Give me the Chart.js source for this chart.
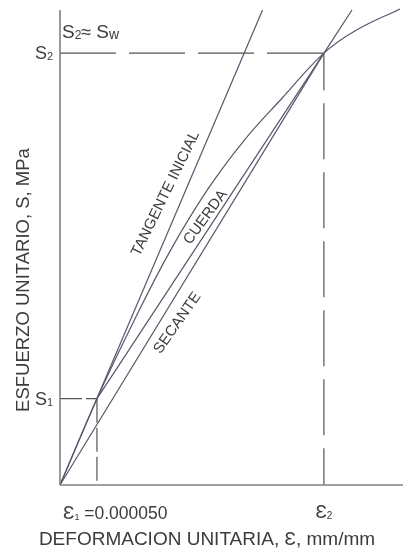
<!DOCTYPE html>
<html>
<head>
<meta charset="utf-8">
<script src="https://cdn.jsdelivr.net/npm/chart.js@4.4.0/dist/chart.umd.min.js"></script>
<style>
  html, body { margin: 0; padding: 0; background: #fff; }
  #wrap { width: 403px; height: 554px; position: relative; }
</style>
</head>
<body>
<div id="wrap"><canvas id="chart"></canvas></div>
<script>
// Strain in micro-strain (x 1e-6 mm/mm), stress in MPa (schematic)
const X_MAX = 464;
const Y_MAX = 22;

const eps1 = 50;     // 0.000050
const eps2 = 357;
const s1 = 4.0;
const s2 = 20;

// stress-strain curve
const curveStrain = [0, 50, 100, 150, 200, 250, 300, 357, 400, 460];
const curveStress = [0, 4.0, 7.6, 10.9, 13.7, 16.0, 17.9, 20, 21.05, 22.05];

// straight lines
const tangentStrain = [0, 274];
const tangentStress = [0, 22];
const chordStrain = [eps1, eps2, 395];
const chordStress = [s1, s2, 22];
const secantStrain = [0, eps2];
const secantStress = [0, s2];

// rotated labels along the lines
const lineLabels = [
    { text: 'TANGENTE INICIAL', x: 143, y: 13.5, angle: -64 },
    { text: 'CUERDA', x: 197, y: 12.4, angle: -54 },
    { text: 'SECANTE', x: 159, y: 7.5, angle: -55 }
];

const LINE_COLOR = '#55586a';
const AXIS_COLOR = '#808080';
const TEXT_COLOR = '#3c3c3c';
const FONT = '"Liberation Sans", Arial, sans-serif';

function pts(xs, ys) {
    return xs.map((x, i) => ({ x: x, y: ys[i] }));
}

function line(data, opts) {
    return Object.assign({
        data: data,
        showLine: true,
        borderColor: LINE_COLOR,
        borderWidth: 1.2,
        pointRadius: 0,
        fill: false,
        clip: false
    }, opts || {});
}

// draw text made of pieces [text, size, dy]
function drawParts(ctx, parts, x, y, align) {
    let total = 0;
    parts.forEach(p => {
        ctx.font = p[1] + 'px ' + FONT;
        total += ctx.measureText(p[0]).width;
    });
    let cx = x;
    if (align === 'right') cx = x - total;
    if (align === 'center') cx = x - total / 2;
    ctx.textAlign = 'left';
    parts.forEach(p => {
        ctx.font = p[1] + 'px ' + FONT;
        ctx.fillText(p[0], cx, y + (p[2] || 0));
        cx += ctx.measureText(p[0]).width;
    });
}

const textPlugin = {
    id: 'figureText',
    afterDatasetsDraw(chart) {
        const { ctx, scales: { x, y } } = chart;
        ctx.save();
        ctx.fillStyle = TEXT_COLOR;
        ctx.textBaseline = 'alphabetic';

        const x0 = x.getPixelForValue(0);
        const yS1 = y.getPixelForValue(s1);
        const yS2 = y.getPixelForValue(s2);
        const bottom = y.getPixelForValue(0);

        // y tick labels
        drawParts(ctx, [['S', 18], ['2', 11, 1]], x0 - 7, yS2 + 6, 'right');
        drawParts(ctx, [['S', 18], ['1', 11, 1]], x0 - 7, yS1 + 6, 'right');
        drawParts(ctx, [['S', 19], ['2', 12, 1], ['\u2248 ', 18], ['S', 19], ['w', 14, 1]], x0 + 2, yS2 - 15);

        // x tick labels
        drawParts(ctx, [['\u0190', 19], ['1', 9, 1], [' =0.000050', 17.5]], x.getPixelForValue(eps1) - 34, bottom + 34);
        drawParts(ctx, [['\u0190', 19], ['2', 10, 1]], x.getPixelForValue(eps2), bottom + 33, 'center');

        // axis titles
        ctx.font = '19px ' + FONT;
        ctx.textAlign = 'center';
        ctx.textBaseline = 'middle';
        ctx.fillText('DEFORMACION UNITARIA, \u0190, mm/mm', 207, bottom + 55);

        ctx.save();
        ctx.font = '18.5px ' + FONT;
        ctx.translate(24, 280);
        ctx.rotate(-Math.PI / 2);
        ctx.fillText('ESFUERZO UNITARIO, S, MPa', 0, 0);
        ctx.restore();

        // labels along lines
        ctx.font = '15px ' + FONT;
        lineLabels.forEach(l => {
            ctx.save();
            ctx.translate(x.getPixelForValue(l.x), y.getPixelForValue(l.y));
            ctx.rotate(l.angle * Math.PI / 180);
            ctx.fillText(l.text, 0, 0);
            ctx.restore();
        });
        ctx.restore();
    }
};

new Chart(document.getElementById('chart'), {
    type: 'scatter',
    data: {
        datasets: [
            // axes
            line(pts([0, 0], [0, Y_MAX]), { borderColor: AXIS_COLOR, borderWidth: 1.6 }),
            line(pts([0, X_MAX], [0, 0]), { borderColor: AXIS_COLOR, borderWidth: 1.6 }),
            // dashed guides
            line(pts([0, eps2], [s2, s2]), { borderColor: '#555', borderDash: [56, 13] }),
            line(pts([eps2, eps2], [s2, 0]), { borderColor: '#555', borderDash: [56, 13], borderDashOffset: 19 }),
            line(pts([0, eps1], [s1, s1]), { borderColor: '#555', borderDash: [22, 4] }),
            line(pts([eps1, eps1], [s1, 0]), { borderColor: '#555', borderDash: [24, 5] }),
            // lines
            line(pts(tangentStrain, tangentStress)),
            line(pts(chordStrain, chordStress)),
            line(pts(secantStrain, secantStress)),
            line(pts(curveStrain, curveStress), { tension: 0.4 })
        ]
    },
    options: {
        responsive: true,
        maintainAspectRatio: false,
        animation: false,
        layout: { padding: { left: 60, right: 0, top: 10, bottom: 69 } },
        scales: {
            x: { type: 'linear', min: 0, max: X_MAX, display: false },
            y: { type: 'linear', min: 0, max: Y_MAX, display: false }
        },
        plugins: {
            legend: { display: false },
            tooltip: { enabled: false }
        }
    },
    plugins: [textPlugin]
});
</script>
</body>
</html>
